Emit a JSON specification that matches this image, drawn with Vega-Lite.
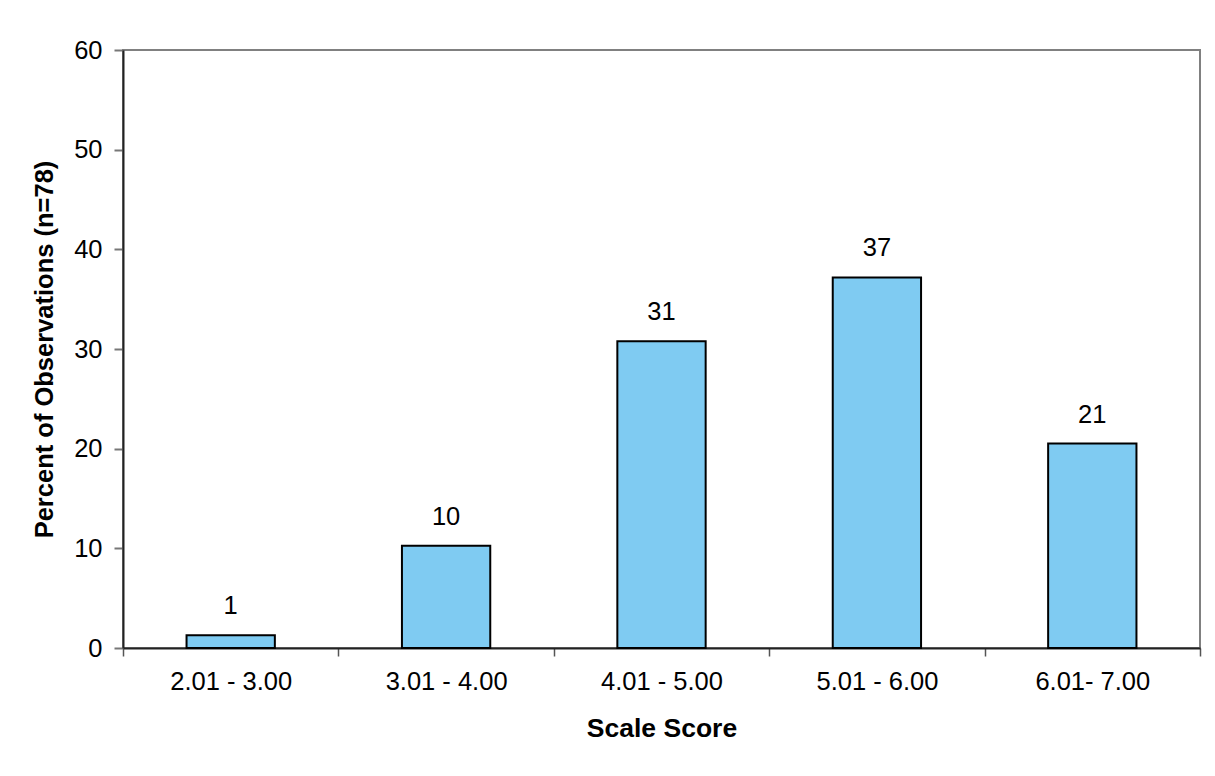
{
  "$schema": "https://vega.github.io/schema/vega-lite/v6.json",
  "width": 1077,
  "height": 598,
  "autosize": {"type": "none"},
  "padding": {"left": 123, "top": 50, "right": 15, "bottom": 128},
  "background": "white",
  "config": {
    "font": "Liberation Sans",
    "view": {"stroke": "#808080", "strokeWidth": 2}
  },
  "data": {
    "values": [
      {"range": "2.01 - 3.00", "pct": 1.28},
      {"range": "3.01 - 4.00", "pct": 10.26},
      {"range": "4.01 - 5.00", "pct": 30.77},
      {"range": "5.01 - 6.00", "pct": 37.18},
      {"range": "6.01- 7.00", "pct": 20.51}
    ]
  },
  "encoding": {
    "x": {
      "field": "range",
      "type": "nominal",
      "sort": null,
      "scale": {"paddingInner": 0, "paddingOuter": 0},
      "axis": {
        "title": "Scale Score",
        "titleFont": "Liberation Sans",
        "titleFontSize": 26.5,
        "titleFontWeight": "bold",
        "titleColor": "black",
        "titlePadding": 21,
        "labelAngle": 0,
        "labelFont": "Liberation Sans",
        "labelFontSize": 25.5,
        "labelColor": "black",
        "labelPadding": 13,
        "tickBand": "extent",
        "tickSize": 8,
        "tickColor": "#555555",
        "tickWidth": 1.5,
        "domainColor": "#222222",
        "domainWidth": 2,
        "grid": false
      }
    },
    "y": {
      "field": "pct",
      "type": "quantitative",
      "scale": {"domain": [0, 60], "nice": false},
      "axis": {
        "title": "Percent of Observations (n=78)",
        "titleFont": "Liberation Sans",
        "titleFontSize": 25.5,
        "titleFontWeight": "bold",
        "titleColor": "black",
        "titlePadding": 16,
        "values": [0, 10, 20, 30, 40, 50, 60],
        "labelFont": "Liberation Sans",
        "labelFontSize": 25.5,
        "labelColor": "black",
        "labelPadding": 12,
        "tickSize": 9,
        "tickColor": "#777777",
        "tickWidth": 2,
        "domainColor": "#222222",
        "domainWidth": 2,
        "grid": false
      }
    }
  },
  "layer": [
    {
      "mark": {
        "type": "bar",
        "width": {"band": 0.41},
        "color": "#7FCBF2",
        "stroke": "black",
        "strokeWidth": 2
      }
    },
    {
      "mark": {
        "type": "text",
        "font": "Liberation Sans",
        "fontSize": 25.5,
        "color": "black",
        "baseline": "bottom",
        "dy": -16
      },
      "encoding": {
        "text": {"field": "pct", "type": "quantitative", "format": ".0f"}
      }
    }
  ]
}
